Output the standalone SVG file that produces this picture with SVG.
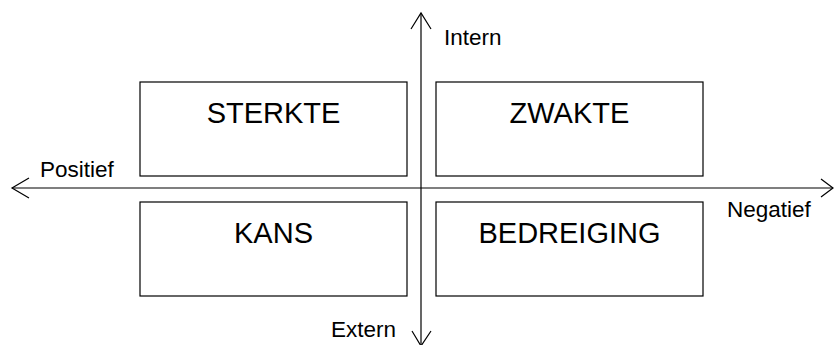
<svg xmlns="http://www.w3.org/2000/svg" width="834" height="345" viewBox="0 0 834 345">
<style>
.box{fill:#fff;stroke:#000;stroke-width:1.2}
.ln{fill:none;stroke:#000;stroke-width:1.2}
.lbl{font-family:"Liberation Sans",Arial,sans-serif;font-size:29px;fill:#000;text-anchor:middle}
.ax{font-family:"Liberation Sans",Arial,sans-serif;font-size:22.5px;fill:#000}
</style>
<rect width="834" height="345" fill="#fff"/>
<g id="connectors">
<line class="ln" x1="12" y1="188" x2="833" y2="188"/>
<line class="ln" x1="421" y1="13" x2="421" y2="345"/>
<polyline class="ln" points="29,178 12,188 29,198"/>
<polyline class="ln" points="821,179 833,188 821,197"/>
<polyline class="ln" points="411,29 421,13 431,29"/>
<polyline class="ln" points="412,331 421,346 431,331"/>
</g>
<g id="sterkte"><rect class="box" x="140" y="82" width="267" height="94"/><text class="lbl" x="273.5" y="123">STERKTE</text></g>
<g id="zwakte"><rect class="box" x="436" y="82" width="267" height="94"/><text class="lbl" x="569.5" y="123">ZWAKTE</text></g>
<g id="kans"><rect class="box" x="140" y="202" width="267" height="94"/><text class="lbl" x="273.5" y="243">KANS</text></g>
<g id="bedreiging"><rect class="box" x="436" y="202" width="267" height="94"/><text class="lbl" x="569.5" y="243">BEDREIGING</text></g>
<g id="labels">
<text class="ax" x="40" y="177">Positief</text>
<text class="ax" x="727" y="217">Negatief</text>
<text class="ax" x="444" y="45">Intern</text>
<text class="ax" x="331" y="337">Extern</text>
</g>
</svg>
